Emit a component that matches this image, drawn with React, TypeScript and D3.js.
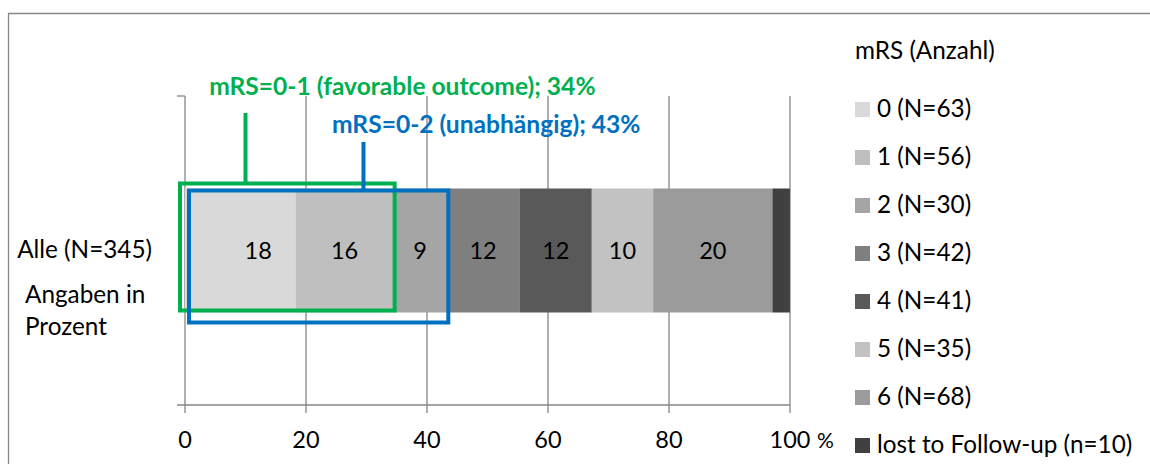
import React from "react";
import * as d3 from "d3";

const categories = ["Alle (N=345)"];
const seriesNames = ["0", "1", "2", "3", "4", "5", "6", "lost to Follow-up"];
const legendLabels = [
  "0 (N=63)",
  "1 (N=56)",
  "2 (N=30)",
  "3 (N=42)",
  "4 (N=41)",
  "5 (N=35)",
  "6 (N=68)",
  "lost to Follow-up (n=10)",
];
const percents = [18.26, 16.23, 8.7, 12.17, 11.88, 10.14, 19.71, 2.9];
const barLabels = ["18", "16", "9", "12", "12", "10", "20", ""];
const xTicks = [0, 20, 40, 60, 80, 100];
const colors = ["#d9d9d9", "#bfbfbf", "#a5a5a5", "#7f7f7f", "#595959", "#c2c2c2", "#9b9b9b", "#404040"];

const FONT = "Lato, 'Open Sans', sans-serif";
const TXT = 24.3;
const NUM = 23.5;
const BOLD = 24.6;

export default function App() {
  const W = 1150;
  const H = 464;
  const x = d3.scaleLinear().domain([0, 100]).range([185, 790]);
  const y = d3.scaleBand().domain(categories).range([96, 405]).paddingInner(0).paddingOuter(0.746);

  const stack = d3.stack<any>().keys(seriesNames)([
    Object.fromEntries(seriesNames.map((k, i) => [k, percents[i]])),
  ]);

  const by = y(categories[0])!;
  const bh = y.bandwidth();

  const cum1 = percents[0] + percents[1];
  const cum2 = cum1 + percents[2];

  const gridColor = "#868686";

  return (
    <svg width={W} height={H} style={{ position: "fixed", left: 0, top: 0 }} fontFamily={FONT}>
      <rect x={0} y={0} width={W} height={H} fill="#fff" />
      {/* outer frame */}
      <path d={`M8.5,${H} V13.5 H${W}`} fill="none" stroke="#888" strokeWidth={1.3} />

      {/* gridlines */}
      {xTicks.map((t) => (
        <line key={t} x1={x(t)} x2={x(t)} y1={96} y2={405} stroke={gridColor} strokeWidth={1.3} />
      ))}
      {/* x-axis */}
      <line x1={177} x2={x(100)} y1={405} y2={405} stroke={gridColor} strokeWidth={1.3} />
      {xTicks.map((t) => (
        <line key={"t" + t} x1={x(t)} x2={x(t)} y1={405} y2={413} stroke={gridColor} strokeWidth={1.3} />
      ))}
      {/* y-axis tick top */}
      <line x1={177} x2={x(0)} y1={96} y2={96} stroke={gridColor} strokeWidth={1.3} />

      {xTicks.map((t) => (
        <text key={"l" + t} x={x(t)} y={448} textAnchor="middle" fontSize={NUM} fill="#000">
          {t}
        </text>
      ))}
      <text x={817} y={448} fontSize={21} fill="#000">%</text>

      {/* bars */}
      {stack.map((s, i) => {
        const d = s[0];
        return (
          <rect key={i} x={x(d[0])} y={by} width={x(d[1]) - x(d[0])} height={bh} fill={colors[i]} />
        );
      })}
      {stack.map((s, i) => {
        const d = s[0];
        const cx = (x(d[0]) + x(d[1])) / 2 + (i === 0 ? 18 : 0);
        return barLabels[i] ? (
          <text key={"bl" + i} x={cx} y={by + bh / 2 + 8.5} textAnchor="middle" fontSize={NUM} fill="#000">
            {barLabels[i]}
          </text>
        ) : null;
      })}

      {/* category labels */}
      <text x={152} y={258} textAnchor="end" fontSize={TXT} fill="#000">{categories[0]}</text>
      <text x={25} y={303} fontSize={TXT} fill="#000">Angaben in</text>
      <text x={25} y={335} fontSize={TXT} fill="#000">Prozent</text>

      {/* green annotation */}
      <rect x={x(0) - 5} y={by - 5} width={x(cum1) - x(0) + 6} height={bh + 3} fill="none" stroke="#00b050" strokeWidth={4} />
      <line x1={x(10)} x2={x(10)} y1={113} y2={by - 5} stroke="#00b050" strokeWidth={4} />
      <text x={x(4)} y={95} fontSize={BOLD} fontWeight={700} fill="#00b050">
        mRS=0-1 (favorable outcome); 34%
      </text>

      {/* blue annotation */}
      <rect x={x(0) + 4} y={by + 2} width={x(cum2) - x(0) - 2} height={bh + 8} fill="none" stroke="#0070c0" strokeWidth={4} />
      <line x1={x(29.5)} x2={x(29.5)} y1={142} y2={by + 2} stroke="#0070c0" strokeWidth={4} />
      <text x={x(24.3)} y={133} fontSize={BOLD} fontWeight={700} fill="#0070c0">
        mRS=0-2 (unabhängig); 43%
      </text>

      {/* legend */}
      <text x={855} y={59} fontSize={TXT} fill="#000">mRS (Anzahl)</text>
      {legendLabels.map((l, i) => {
        const base = 117 + i * 48;
        return (
          <g key={"lg" + i}>
            <rect x={855} y={base - 15} width={15} height={15} fill={colors[i]} />
            <text x={877} y={base} fontSize={TXT} fill="#000">{l}</text>
          </g>
        );
      })}
    </svg>
  );
}
